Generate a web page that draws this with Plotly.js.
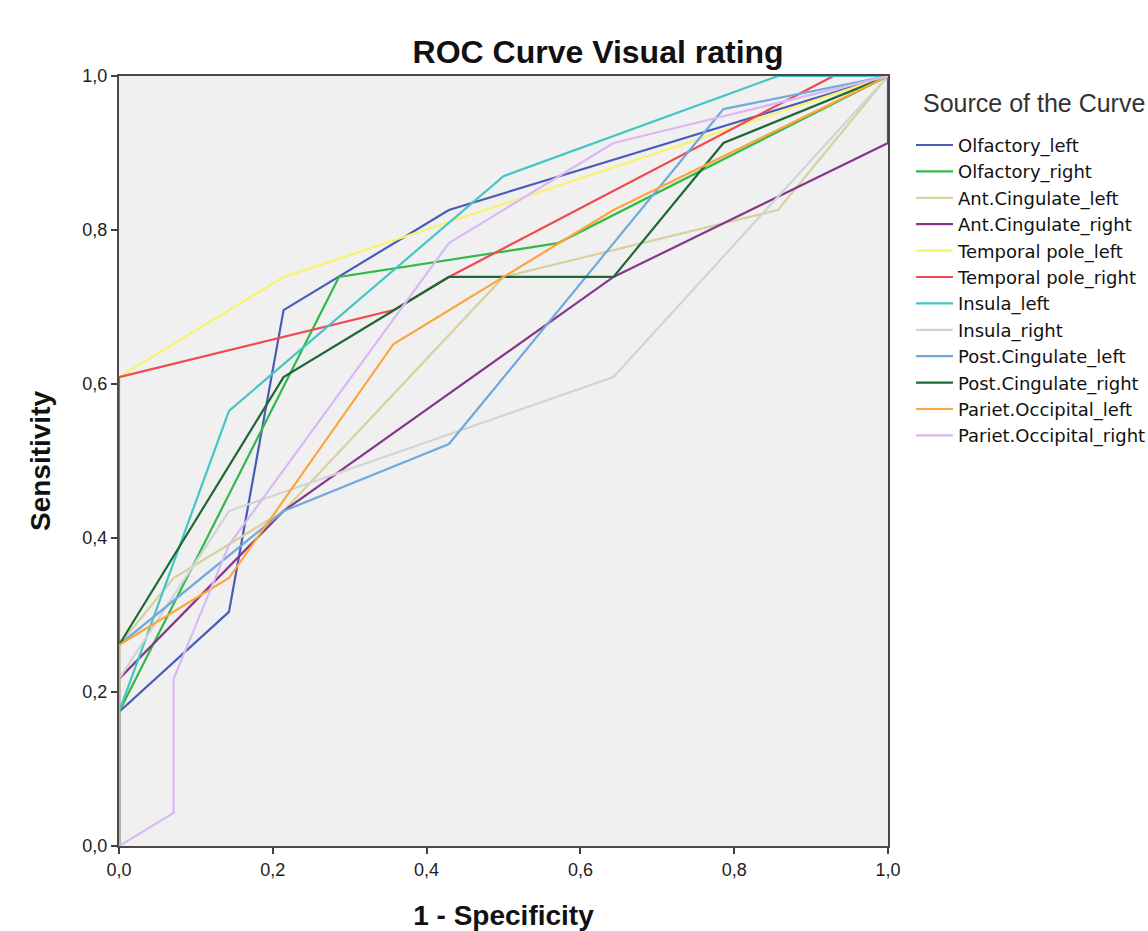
<!DOCTYPE html>
<html><head><meta charset="utf-8">
<script src="https://cdn.plot.ly/plotly-3.0.1.min.js"></script>
<style>html,body{margin:0;padding:0;background:#fff;overflow:hidden}</style>
</head><body><div id="chart" style="width:1148px;height:931px"></div>
<script>
// ---- data ----
const seriesNames = ["Olfactory_left","Olfactory_right","Ant.Cingulate_left","Ant.Cingulate_right",
  "Temporal pole_left","Temporal pole_right","Insula_left","Insula_right",
  "Post.Cingulate_left","Post.Cingulate_right","Pariet.Occipital_left","Pariet.Occipital_right"];

const olfactoryLeftX  = [0, 0, 0.143, 0.214, 0.429, 1];
const olfactoryLeftY  = [0, 0.174, 0.304, 0.696, 0.826, 1];
const olfactoryRightX = [0, 0, 0.286, 0.571, 1];
const olfactoryRightY = [0, 0.174, 0.739, 0.783, 1];
const antCingLeftX    = [0, 0, 0.071, 0.214, 0.5, 0.857, 1];
const antCingLeftY    = [0, 0.261, 0.348, 0.435, 0.739, 0.826, 1];
const antCingRightX   = [0, 0, 0.214, 0.643, 1, 1];
const antCingRightY   = [0, 0.217, 0.435, 0.739, 0.913, 1];
const tempPoleLeftX   = [0, 0, 0.214, 1];
const tempPoleLeftY   = [0, 0.609, 0.739, 1];
const tempPoleRightX  = [0, 0, 0.357, 0.429, 0.929, 1];
const tempPoleRightY  = [0, 0.609, 0.696, 0.739, 1, 1];
const insulaLeftX     = [0, 0, 0.143, 0.5, 0.857, 1];
const insulaLeftY     = [0, 0.174, 0.565, 0.870, 1, 1];
const insulaRightX    = [0, 0, 0.143, 0.643, 1];
const insulaRightY    = [0, 0.217, 0.435, 0.609, 1];
const postCingLeftX   = [0, 0, 0.214, 0.429, 0.786, 1];
const postCingLeftY   = [0, 0.261, 0.435, 0.522, 0.957, 1];
const postCingRightX  = [0, 0, 0.214, 0.429, 0.643, 0.786, 1];
const postCingRightY  = [0, 0.261, 0.609, 0.739, 0.739, 0.913, 1];
const parOccLeftX     = [0, 0, 0.143, 0.357, 0.643, 1];
const parOccLeftY     = [0, 0.261, 0.348, 0.652, 0.826, 1];
const parOccRightX    = [0, 0.071, 0.071, 0.143, 0.429, 0.643, 1];
const parOccRightY    = [0, 0.043, 0.217, 0.391, 0.783, 0.913, 1];

const tickValues = [0, 0.2, 0.4, 0.6, 0.8, 1.0];
const tickLabels = ["0,0", "0,2", "0,4", "0,6", "0,8", "1,0"];
const legendTitle = "Source of the Curve";

const seriesColors = ["#4a5cb8","#33b84a","#d6d19d","#86378c","#f7f36b","#ef4a50",
  "#45c5c5","#d3d3d3","#70a9dd","#1d6936","#fca53a","#dab8f5"];

const xs = [olfactoryLeftX, olfactoryRightX, antCingLeftX, antCingRightX, tempPoleLeftX, tempPoleRightX,
  insulaLeftX, insulaRightX, postCingLeftX, postCingRightX, parOccLeftX, parOccRightX];
const ys = [olfactoryLeftY, olfactoryRightY, antCingLeftY, antCingRightY, tempPoleLeftY, tempPoleRightY,
  insulaLeftY, insulaRightY, postCingLeftY, postCingRightY, parOccLeftY, parOccRightY];

const traces = seriesNames.map((n, i) => ({
  type: "scatter", mode: "lines", name: n, x: xs[i], y: ys[i],
  line: {color: seriesColors[i], width: 2.2}, cliponaxis: false, hoverinfo: "skip"
}));

const axisCommon = {
  range: [0, 1], showgrid: false, zeroline: false, showline: true, mirror: true,
  linecolor: "#4a4a4a", linewidth: 2, ticks: "outside", ticklen: 6, tickwidth: 2,
  tickcolor: "#404040", tickvals: tickValues, ticktext: tickLabels, layer: "below traces",
  tickfont: {family: "Arial, Liberation Sans, sans-serif", size: 18, color: "#222"}
};

const layout = {
  width: 1148, height: 931,
  paper_bgcolor: "#ffffff", plot_bgcolor: "#f0f0f0",
  margin: {l: 119, r: 260, t: 76, b: 85, autoexpand: false},
  showlegend: true,
  title: {text: "ROC Curve Visual rating", x: 0.521, xref: "container", xanchor: "center",
    y: 0.944, yref: "container", yanchor: "middle",
    font: {family: "Arial, Liberation Sans, sans-serif", size: 32, color: "#111", weight: "bold"}},
  xaxis: Object.assign({}, axisCommon, {
    title: {text: "1 - Specificity", standoff: 31,
      font: {family: "Arial, Liberation Sans, sans-serif", size: 28, color: "#111", weight: "bold"}}}),
  yaxis: Object.assign({}, axisCommon, {
    title: {text: "Sensitivity", standoff: 24,
      font: {family: "Arial, Liberation Sans, sans-serif", size: 28, color: "#111", weight: "bold"}}}),
  legend: {
    x: 1.0299, xanchor: "left", y: 0.934, yanchor: "top", xref: "paper", yref: "paper",
    bgcolor: "rgba(0,0,0,0)", borderwidth: 0, itemwidth: 37,
    font: {family: "DejaVu Sans, sans-serif", size: 18, color: "#111"}
  },
  annotations: [{
    text: legendTitle, xref: "paper", yref: "paper", x: 1.0425, y: 0.965,
    xanchor: "left", yanchor: "middle", showarrow: false,
    font: {family: "Arial, Liberation Sans, sans-serif", size: 25, color: "#333"}
  }],
  hovermode: false
};

Plotly.newPlot("chart", traces, layout, {displayModeBar: false, staticPlot: true});
</script>
</body></html>
